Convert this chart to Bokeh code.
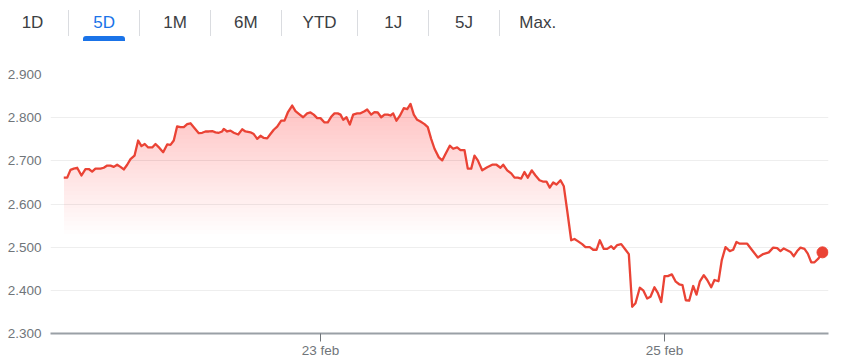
import numpy as np
from bokeh.plotting import figure
from bokeh.layouts import column
from bokeh.models import Range1d, FixedTicker, Div
from bokeh.embed import file_html
from bokeh.resources import INLINE

# ---------------- data ----------------
TAB_LABELS = ["1D", "5D", "1M", "6M", "YTD", "1J", "5J", "Max."]
SELECTED_TAB = "5D"

# hours since 21 feb 00:00
hours = [
    12.18, 12.66, 13.12, 13.58, 14.05, 14.65, 15.21, 15.67, 16.14, 16.60,
    17.30, 17.76, 18.24, 18.70, 19.16, 19.63, 20.09, 20.55, 21.03, 21.49,
    22.05, 22.56, 23.02, 23.48, 23.96, 24.52, 24.98, 25.53, 26.05, 26.61,
    27.07, 27.53, 28.00, 28.46, 28.93, 29.40, 29.86, 30.32, 31.02, 31.49,
    31.95, 32.41, 32.89, 33.35, 33.81, 34.28, 34.51, 34.98, 35.44, 35.90,
    36.52, 37.07, 37.53, 38.23, 38.69, 39.17, 39.63, 40.09, 40.56, 41.02,
    41.48, 41.96, 42.52, 42.98, 43.44, 44.05, 44.51, 45.11, 45.58, 46.14,
    46.60, 47.06, 47.54, 48.00, 48.56, 49.02, 49.49, 49.95, 50.41, 50.79,
    51.17, 51.63, 52.09, 52.56, 53.12, 53.58, 54.14, 54.51, 55.07, 55.53,
    55.99, 56.47, 56.93, 57.39, 57.77, 58.14, 58.60, 59.06, 59.62, 60.10,
    60.56, 61.02, 61.49, 61.95, 62.51, 62.97, 63.44, 63.91, 64.51, 64.98,
    65.44, 66.04, 66.51, 67.07, 67.53, 68.09, 68.55, 69.03, 69.49, 69.95,
    70.56, 71.26, 71.96, 72.56, 73.11, 73.49, 74.05, 74.61, 75.07, 75.53,
    76.00, 76.46, 76.92, 77.48, 78.00, 78.56, 79.02, 79.53, 79.99, 80.47,
    80.93, 81.49, 81.95, 82.42, 82.98, 83.44, 83.90, 84.51, 84.97, 85.57,
    86.05, 86.51, 86.97, 87.53, 88.00, 88.56, 88.92, 89.40, 89.96, 90.56,
    91.02, 91.49, 91.95, 92.55, 93.03, 93.58, 94.04, 94.60, 95.06, 95.54,
    96.00, 96.46, 97.02, 97.57, 98.05, 98.51, 98.97, 99.44, 100.00, 100.46,
    100.92, 101.48, 101.96, 102.51, 102.97, 103.53, 103.99, 104.51, 105.11, 105.58,
    106.04, 106.50, 107.54, 108.23, 109.02, 109.77, 110.55, 111.16, 111.72, 112.18,
    112.64, 113.58, 114.04, 114.51, 114.97, 115.53, 115.99, 116.47, 116.93, 117.49,
    118.04,
]

prices = [
    2661, 2661, 2679, 2682, 2684, 2666, 2681, 2681, 2675, 2682,
    2682, 2684, 2689, 2689, 2686, 2691, 2686, 2680, 2691, 2704,
    2712, 2747, 2734, 2739, 2731, 2731, 2739, 2730, 2720, 2738,
    2737, 2747, 2780, 2778, 2778, 2785, 2787, 2778, 2764, 2765,
    2768, 2768, 2769, 2766, 2765, 2768, 2774, 2768, 2770, 2765,
    2761, 2773, 2768, 2766, 2762, 2751, 2758, 2753, 2752, 2762,
    2772, 2779, 2793, 2793, 2812, 2828, 2815, 2807, 2801, 2810,
    2812, 2807, 2799, 2799, 2789, 2789, 2802, 2810, 2810, 2807,
    2795, 2801, 2784, 2807, 2810, 2810, 2815, 2819, 2807, 2813,
    2812, 2801, 2807, 2807, 2805, 2810, 2793, 2804, 2822, 2820,
    2832, 2807, 2795, 2791, 2785, 2778, 2751, 2728, 2708, 2701,
    2716, 2735, 2728, 2731, 2725, 2725, 2682, 2682, 2712, 2701,
    2678, 2685, 2691, 2691, 2684, 2691, 2678, 2671, 2661, 2661,
    2659, 2674, 2661, 2678, 2666, 2655, 2652, 2652, 2638, 2650,
    2645, 2655, 2641, 2585, 2516, 2519, 2514, 2507, 2500, 2500,
    2494, 2494, 2516, 2496, 2496, 2502, 2496, 2505, 2507, 2494,
    2484, 2362, 2370, 2406, 2400, 2381, 2385, 2407, 2394, 2373,
    2433, 2433, 2437, 2420, 2414, 2412, 2377, 2376, 2410, 2390,
    2420, 2435, 2424, 2407, 2424, 2421, 2470, 2500, 2491, 2494,
    2512, 2508, 2508, 2493, 2476, 2484, 2488, 2499, 2498, 2491,
    2497, 2489, 2479, 2491, 2499, 2496, 2485, 2465, 2465, 2474,
    2488,
]

Y_TICKS = [2300, 2400, 2500, 2600, 2700, 2800, 2900]
Y_TICK_LABELS = ["2.300", "2.400", "2.500", "2.600", "2.700", "2.800", "2.900"]
X_TICKS = [48, 96]
X_TICK_LABELS = ["23 feb", "25 feb"]

# ---------------- styles ----------------
RED = "#ea4335"
FILL = "#d32f2f"
BLUE = "#1a73e8"
TAB_TEXT = "#3c4043"
AXIS_TEXT = "#70757a"
FONT = "Liberation Sans"

TAB_X = [32.5, 104.2, 175.1, 245.9, 319.6, 393.2, 464.0, 537.7]
SEP_X = [68.6, 139.5, 210.5, 281.3, 357.8, 428.6, 499.4]
BAR_H = 58

# ---------------- tab bar (HTML) ----------------
parts = []
for label, tx in zip(TAB_LABELS, TAB_X):
    color = BLUE if label == SELECTED_TAB else TAB_TEXT
    parts.append(
        f'<span style="position:absolute;left:{tx - 40:.1f}px;top:12.5px;width:80px;'
        f'text-align:center;font-size:17px;line-height:20px;color:{color};">{label}</span>')
for sxp in SEP_X:
    parts.append(f'<div style="position:absolute;left:{sxp - 0.5:.1f}px;top:9.5px;'
                 f'width:1px;height:26px;background:#dadce0;"></div>')
sel = TAB_X[TAB_LABELS.index(SELECTED_TAB)]
parts.append(f'<div style="position:absolute;left:{sel - 20.8:.1f}px;top:36px;width:41.6px;'
             f'height:5px;background:{BLUE};border-radius:3px 3px 0 0;"></div>')
html = (f'<div style="position:relative;width:856px;height:{BAR_H}px;margin:0;padding:0;'
        f"font-family:'{FONT}',Arial,sans-serif;\">" + "".join(parts) + "</div>")
tabs = Div(text=html, width=856, height=BAR_H, margin=0)

# ---------------- chart ----------------
p = figure(frame_width=778, frame_height=259,
           x_range=Range1d(10.33, 118.88), y_range=Range1d(2300, 2900),
           output_backend="svg", toolbar_location=None,
           min_border_left=50, min_border_right=28,
           min_border_top=74 - BAR_H, min_border_bottom=30,
           outline_line_color=None, margin=0)

x = np.array(hours)
y = np.array(prices, dtype=float)

# gradient area fill (stacked translucent layers, fading downward)
for lvl in np.arange(2530, 2835, 10):
    p.varea(x=x, y1=np.full_like(y, lvl), y2=np.maximum(y, lvl),
            fill_color=FILL, fill_alpha=0.009)

p.line(x, y, line_color=RED, line_width=2.3, line_join="round")
p.scatter([hours[-1]], [prices[-1]], size=11, fill_color=RED, line_color=RED)

# y axis
p.yaxis.ticker = FixedTicker(ticks=Y_TICKS)
p.yaxis.major_label_overrides = dict(zip(Y_TICKS, Y_TICK_LABELS))
p.yaxis.axis_line_color = None
p.yaxis.major_tick_line_color = None
p.yaxis.minor_tick_line_color = None
p.yaxis.major_label_standoff = 3
p.yaxis.major_label_text_color = AXIS_TEXT
p.yaxis.major_label_text_font = FONT
p.yaxis.major_label_text_font_size = "13.5px"

# x axis
p.xaxis.ticker = FixedTicker(ticks=X_TICKS)
p.xaxis.major_label_overrides = dict(zip(X_TICKS, X_TICK_LABELS))
p.xaxis.axis_line_color = "#9aa0a6"
p.xaxis.axis_line_width = 2
p.xaxis.major_tick_line_color = AXIS_TEXT
p.xaxis.major_tick_in = 0
p.xaxis.major_tick_out = 8
p.xaxis.minor_tick_line_color = None
p.xaxis.major_label_standoff = 1
p.xaxis.major_label_text_color = AXIS_TEXT
p.xaxis.major_label_text_font = FONT
p.xaxis.major_label_text_font_size = "13.5px"

p.xgrid.visible = False
p.ygrid.ticker = FixedTicker(ticks=Y_TICKS)
p.ygrid.grid_line_color = "#eeeeee"
p.ygrid.grid_line_width = 1

layout = column(tabs, p, spacing=0, margin=0)
open("out.html", "w").write(file_html(layout, INLINE))
